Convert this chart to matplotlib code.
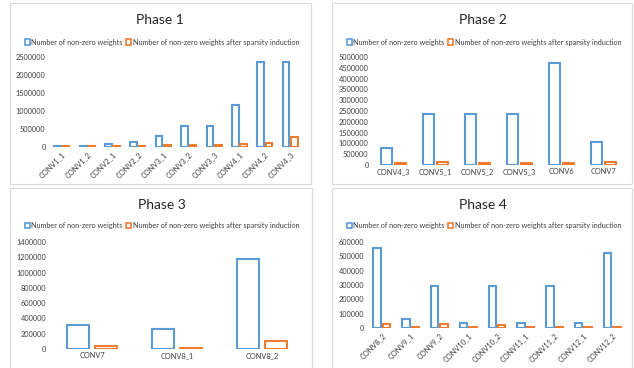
import matplotlib
matplotlib.use("Agg")
import matplotlib.pyplot as plt
from matplotlib.patches import Rectangle, Patch
import numpy as np

plt.rcParams['font.family'] = ['Lato', 'DejaVu Sans']

W, H = 634, 368

p1_cats = ["CONV1_1", "CONV1_2", "CONV2_1", "CONV2_2", "CONV3_1", "CONV3_2", "CONV3_3", "CONV4_1", "CONV4_2", "CONV4_3"]
p1_nz = [20000, 37000, 74000, 147000, 295000, 590000, 590000, 1180000, 2359000, 2359000]
p1_sp = [18000, 22000, 25000, 40000, 55000, 55000, 55000, 75000, 100000, 280000]

p2_cats = ["CONV4_3", "CONV5_1", "CONV5_2", "CONV5_3", "CONV6", "CONV7"]
p2_nz = [800000, 2359000, 2359000, 2359000, 4718000, 1048000]
p2_sp = [80000, 120000, 80000, 80000, 80000, 120000]

p3_cats = ["CONV7", "CONV8_1", "CONV8_2"]
p3_nz = [310000, 262000, 1180000]
p3_sp = [40000, 15000, 100000]

p4_cats = ["CONV8_2", "CONV9_1", "CONV9_2", "CONV10_1", "CONV10_2", "CONV11_1", "CONV11_2", "CONV12_1", "CONV12_2"]
p4_nz = [560000, 65000, 295000, 33000, 295000, 33000, 295000, 33000, 520000]
p4_sp = [30000, 10000, 25000, 10000, 20000, 8000, 10000, 8000, 6000]

titles = ["Phase 1", "Phase 2", "Phase 3", "Phase 4"]
series_names = ["Number of non-zero weights", "Number of non-zero weights after sparsity induction"]

BLUE = "#5B9BD5"
ORANGE = "#ED7D31"

fig = plt.figure(figsize=(W / 100, H / 100), dpi=100)
fig.patch.set_facecolor("white")


def fx(x):
    return x / W


def fy(y):
    return 1 - y / H


borders = [(10, 3, 311, 184), (332, 3, 632, 184), (10, 188, 312, 372), (332, 188, 632, 372)]
for (x0, y0, x1, y1) in borders:
    fig.patches.append(Rectangle((fx(x0), fy(y1)), fx(x1 - x0), (y1 - y0) / H,
                                 transform=fig.transFigure, fill=False,
                                 edgecolor="#d9d9d9", linewidth=0.8))

specs = [
    (p1_cats, p1_nz, p1_sp, 49, 303, 57, 147, 2500000, 500000, True, (160, 20), (162, 42)),
    (p2_cats, p2_nz, p2_sp, 372, 625, 57, 165, 5000000, 500000, False, (483, 20), (484, 42)),
    (p3_cats, p3_nz, p3_sp, 49.5, 304.5, 242, 349, 1400000, 200000, False, (162, 205), (162, 226)),
    (p4_cats, p4_nz, p4_sp, 367.6, 626.4, 242, 328, 600000, 100000, True, (483, 205), (484, 226)),
]

bw = 0.26
off = 0.165
for i, (cats, nz, sp, l, r, t, b, ymax, ystep, rot, tpos, lpos) in enumerate(specs):
    ax = fig.add_axes([fx(l), fy(b), (r - l) / W, (b - t) / H])
    x = np.arange(len(cats))
    ax.bar(x - off, nz, width=bw, facecolor="white", edgecolor=BLUE, linewidth=1.5)
    ax.bar(x + off, sp, width=bw, facecolor="white", edgecolor=ORANGE, linewidth=1.5)
    ax.set_xlim(-0.5, len(cats) - 0.5)
    ax.set_ylim(0, ymax)
    ax.set_yticks(np.arange(0, ymax + 1, ystep))
    ax.set_yticklabels([str(int(v)) for v in np.arange(0, ymax + 1, ystep)], fontsize=5.3, color="#404040")
    ax.set_xticks(x)
    if rot:
        ax.set_xticklabels(cats, rotation=45, ha="right", rotation_mode="anchor", fontsize=5.3, color="#404040")
    else:
        ax.set_xticklabels(cats, fontsize=5.3, color="#404040")
    ax.tick_params(axis="both", length=0, pad=2.5)
    for s in ["top", "right", "left", "bottom"]:
        ax.spines[s].set_visible(False)
    ax.set_facecolor("none")
    fig.text(fx(tpos[0]), fy(tpos[1]), titles[i], ha="center", va="center", fontsize=10, color="#262626")
    handles = [Patch(facecolor="white", edgecolor=BLUE, linewidth=1.2),
               Patch(facecolor="white", edgecolor=ORANGE, linewidth=1.2)]
    fig.legend(handles, series_names, loc="center", bbox_to_anchor=(fx(lpos[0]), fy(lpos[1])),
               ncol=2, frameon=False, fontsize=5.2, handlelength=0.7, handleheight=0.7,
               handletextpad=0.2, columnspacing=0.5, borderpad=0, labelcolor="#404040")

fig.savefig("out.png", dpi=100, facecolor="white")
